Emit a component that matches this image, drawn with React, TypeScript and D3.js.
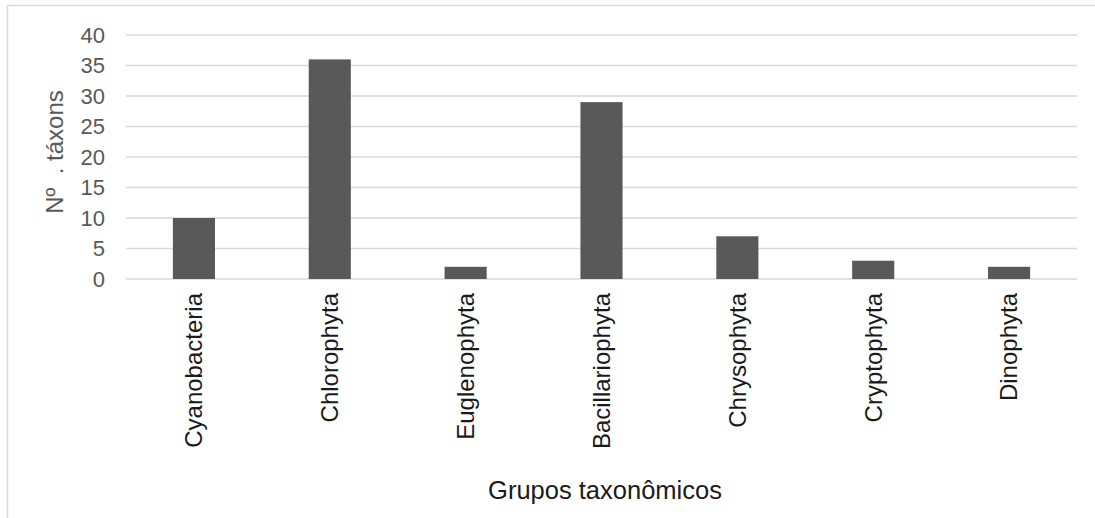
import React from "react";
import * as d3 from "d3";

const categories = [
  "Cyanobacteria",
  "Chlorophyta",
  "Euglenophyta",
  "Bacillariophyta",
  "Chrysophyta",
  "Cryptophyta",
  "Dinophyta",
];
const taxonCounts = [10, 36, 2, 29, 7, 3, 2];
const yTicks = [0, 5, 10, 15, 20, 25, 30, 35, 40];

const W = 1095;
const H = 518;
const plot = { left: 126, right: 1077, top: 35, bottom: 279 };
const FONT = "'Liberation Sans', Arial, sans-serif";

export default function App() {
  const x = d3
    .scaleBand<string>()
    .domain(categories)
    .range([plot.left, plot.right])
    .paddingInner(0.69)
    .paddingOuter(0.345);
  const band = d3.scaleBand<string>().domain(categories).range([plot.left, plot.right]);
  const y = d3.scaleLinear().domain([0, 40]).range([plot.bottom, plot.top]);

  return (
    <svg
      width={W}
      height={H}
      style={{ position: "absolute", left: 0, top: 0, background: "#fff" }}
      fontFamily={FONT}
    >
      <rect width={W} height={H} fill="#fff" />
      <path d={`M7.5,${H} V5.5 H${W}`} fill="none" stroke="#d9d9d9" strokeWidth={1.5} />

      {yTicks.map((t) => (
        <g key={t}>
          <line
            x1={plot.left}
            x2={plot.right}
            y1={y(t)}
            y2={y(t)}
            stroke="#d9d9d9"
            strokeWidth={1.5}
          />
          <text
            x={105}
            y={y(t)}
            dy="0.36em"
            textAnchor="end"
            fontSize={22}
            fill="#595959"
          >
            {t}
          </text>
        </g>
      ))}

      {categories.map((c, i) => (
        <rect
          key={c}
          x={x(c)}
          y={y(taxonCounts[i])}
          width={x.bandwidth()}
          height={y(0) - y(taxonCounts[i])}
          fill="#595959"
        />
      ))}

      {categories.map((c) => {
        const cx = (band(c) as number) + band.bandwidth() / 2;
        const ty = plot.bottom + 14;
        return (
          <text
            key={c}
            transform={`translate(${cx},${ty}) rotate(-90)`}
            dy="0.35em"
            textAnchor="end"
            fontSize={24}
            fill="#1a1a1a"
          >
            {c}
          </text>
        );
      })}

      <text
        transform={`translate(55,152) rotate(-90)`}
        dy="0.35em"
        textAnchor="middle"
        fontSize={24}
        fill="#595959"
        style={{ whiteSpace: "pre" }}
      >
        {"Nº  . táxons"}
      </text>

      <text
        x={605}
        y={499}
        textAnchor="middle"
        fontSize={25.5}
        fill="#1a1a1a"
      >
        Grupos taxonômicos
      </text>
    </svg>
  );
}
